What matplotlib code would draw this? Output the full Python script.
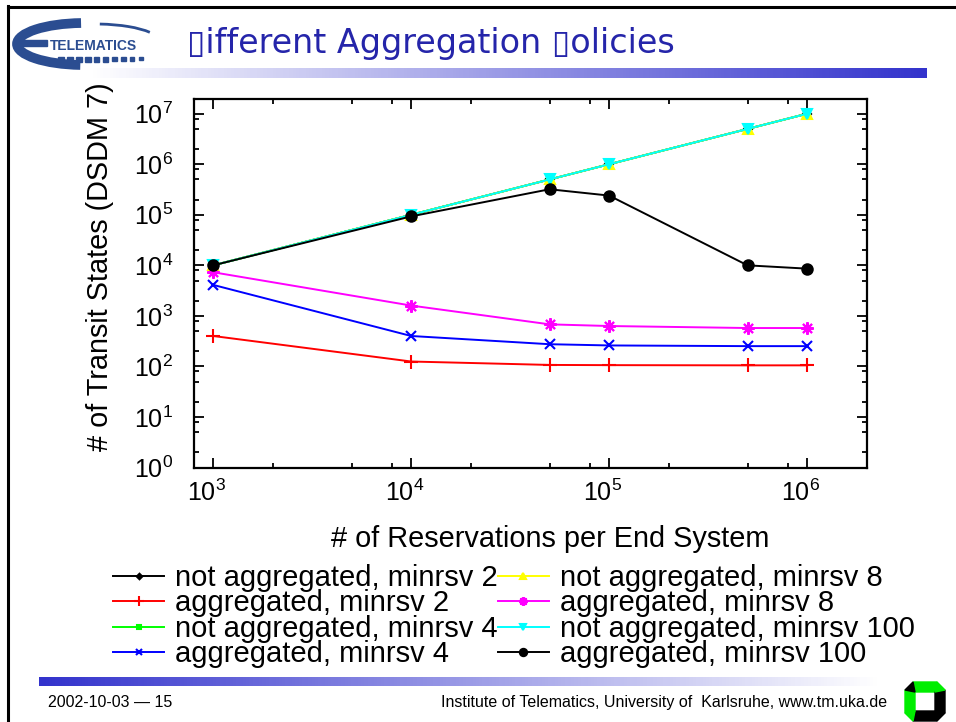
import numpy as np
import matplotlib
matplotlib.use('Agg')
import matplotlib.pyplot as plt
from matplotlib.ticker import LogLocator, NullFormatter
from matplotlib.patches import Polygon, Rectangle, Arc
from matplotlib.transforms import ScaledTranslation

plt.rcParams['font.family'] = ['Liberation Sans', 'DejaVu Sans']
plt.rcParams['mathtext.fontset'] = 'custom'
plt.rcParams['mathtext.rm'] = 'Liberation Sans'
plt.rcParams['mathtext.it'] = 'Liberation Sans:italic'
plt.rcParams['mathtext.bf'] = 'Liberation Sans:bold'

# Data
reservations = [1e3, 1e4, 5e4, 1e5, 5e5, 1e6]
not_agg_minrsv2 = [1e4, 1e5, 5e5, 1e6, 5e6, 1e7]
agg_minrsv2 = [400, 125, 107, 106, 105, 105]
not_agg_minrsv4 = [1e4, 1e5, 5e5, 1e6, 5e6, 1e7]
agg_minrsv4 = [4100, 400, 275, 260, 252, 252]
not_agg_minrsv8 = [1e4, 1e5, 5e5, 1e6, 5e6, 1e7]
agg_minrsv8 = [7300, 1600, 680, 630, 575, 575]
not_agg_minrsv100 = [1e4, 1e5, 5e5, 1e6, 5e6, 1e7]
agg_minrsv100 = [1e4, 9.3e4, 3.2e5, 2.4e5, 1e4, 8.6e3]

series = [
    ('not aggregated, minrsv 2', not_agg_minrsv2, 'black', 'D', 4),
    ('aggregated, minrsv 2', agg_minrsv2, '#ff0000', '+', 10),
    ('not aggregated, minrsv 4', not_agg_minrsv4, '#00ff00', 's', 5),
    ('aggregated, minrsv 4', agg_minrsv4, '#0000ff', 'x', 7),
    ('not aggregated, minrsv 8', not_agg_minrsv8, '#ffff00', '^', 7),
    ('aggregated, minrsv 8', agg_minrsv8, '#ff00ff', (8, 2, 0), 9),
    ('not aggregated, minrsv 100', not_agg_minrsv100, '#00ffff', 'v', 7),
    ('aggregated, minrsv 100', agg_minrsv100, 'black', 'o', 7.5),
]

W, H = 956, 722
fig = plt.figure(figsize=(W / 100, H / 100), dpi=100)

# slide decoration layer in pixel coords
deco = fig.add_axes([0, 0, 1, 1], zorder=-1)
deco.axis('off')

deco.plot([8, W], [6.5, 6.5], color='black', lw=2.2)
deco.plot([8.5, 8.5], [6, H], color='black', lw=2.2)

blue = np.array([51, 51, 204]) / 255
grad = np.linspace(0, 1, 256)
top_bar = np.ones((1, 256, 3)) * (1 - grad[None, :, None]) + blue * grad[None, :, None]
deco.imshow(top_bar, extent=(90, 927, 78, 68), aspect='auto')
deco.imshow(top_bar[:, ::-1, :], extent=(39, 880, 686, 677), aspect='auto')
deco.set_xlim(0, W)
deco.set_ylim(H, 0)

# TeleMatics logo (rough)
logo_c = '#2b4d91'
deco.add_patch(Arc((84, 44), 134, 42, theta1=100, theta2=262, lw=7, color=logo_c))
deco.add_patch(Rectangle((17, 40), 30, 6, color=logo_c))
deco.add_patch(Arc((95, 42), 130, 36, theta1=285, theta2=350, lw=2, color=logo_c))
for i, xd in enumerate(np.arange(58, 148, 9)):
    deco.add_patch(Rectangle((xd, 57), 6.5 - i * 0.25, 6 - i * 0.3, color=logo_c))
deco.text(50, 50, 'TELEMATICS', fontsize=10, color=logo_c, fontweight='bold',
          va='baseline')

deco.text(187, 53, '\u25afifferent Aggregation \u25afolicies', fontsize=24,
          color='#2525aa', va='baseline', family='DejaVu Sans')

# footer
deco.text(48, 707, '2002-10-03 \u2014 15', fontsize=11.5, va='baseline')
deco.text(887, 707, 'Institute of Telematics, University of  Karlsruhe, www.tm.uka.de',
          fontsize=11.5, va='baseline', ha='right')

# university logo (rough)
g, k = '#00ee00', 'black'
x0, x1, y0, y1 = 905, 945, 682, 721
c = 8
ix0, ix1, iy0, iy1 = 915, 935, 692, 711
deco.add_patch(Polygon([(x0 + c, y0), (x1 - c, y0), (ix1, iy0), (ix0, iy0)], color=g))
deco.add_patch(Polygon([(x1, y0 + c), (x1, y1 - c), (ix1, iy1), (ix1, iy0)], color=k))
deco.add_patch(Polygon([(x1 - c, y1), (x0 + c, y1), (ix0, iy1), (ix1, iy1)], color=k))
deco.add_patch(Polygon([(x0, y1 - c), (x0, y0 + c), (ix0, iy0), (ix0, iy1)], color=g))
deco.add_patch(Polygon([(x0, y0 + c), (x0 + c, y0), (ix0, iy0)], color=k))
deco.add_patch(Polygon([(x1 - c, y0), (x1, y0 + c), (ix1, iy0)], color=g))
deco.add_patch(Polygon([(x1, y1 - c), (x1 - c, y1), (ix1, iy1)], color=k))
deco.add_patch(Polygon([(x0 + c, y1), (x0, y1 - c), (ix0, iy1)], color=g))

# chart
ax = fig.add_axes([194 / W, 1 - 467.5 / H, 672.7 / W, 369 / H])
handles = []
for label, vals, col, mk, ms in series:
    ln, = ax.plot(reservations, vals, color=col, marker=mk, markersize=ms,
                  markeredgewidth=1.5, lw=1.4, label=label, clip_on=False)
    handles.append(ln)

ax.set_xscale('log')
ax.set_yscale('log')
ax.set_xlim(800, 2e6)
ax.set_ylim(1, 2e7)
ax.xaxis.set_major_locator(LogLocator(base=10, numticks=10))
ax.yaxis.set_major_locator(LogLocator(base=10, numticks=10))
ax.xaxis.set_minor_locator(LogLocator(base=10, subs=[2, 5, 8], numticks=20))
ax.yaxis.set_minor_locator(LogLocator(base=10, subs=[2, 5, 8], numticks=20))
ax.xaxis.set_minor_formatter(NullFormatter())
ax.yaxis.set_minor_formatter(NullFormatter())
ax.tick_params(which='both', direction='in', top=True, right=True, width=1.3)
ax.tick_params(which='major', length=7, labelsize=18)
ax.tick_params(which='minor', length=3.5)
ax.tick_params(axis='y', which='major', pad=15)
ax.tick_params(axis='x', which='major', pad=9)
for sp in ax.spines.values():
    sp.set_linewidth(1.6)

fig.canvas.draw()
for lab in ax.get_xticklabels():
    lab.set_transform(lab.get_transform() + ScaledTranslation(-6.5 / 100, 0, fig.dpi_scale_trans))

fig.text(550 / W, 1 - 546.7 / H, '# of Reservations per End System', fontsize=20.8,
         ha='center', va='baseline')
fig.text(100 / W, 1 - 266.5 / H, '# of Transit States (DSDM 7)', fontsize=20.8,
         ha='center', va='center', rotation=90)

fig.legend(handles=handles, ncol=2, loc='upper left',
           bbox_to_anchor=(113 / W, 1 - 564 / H), frameon=False, fontsize=21,
           borderpad=0, borderaxespad=0, handlelength=1.75, handletextpad=0.38,
           columnspacing=0.0, labelspacing=-0.09, markerscale=0.7)

fig.savefig('out.png', dpi=100)
